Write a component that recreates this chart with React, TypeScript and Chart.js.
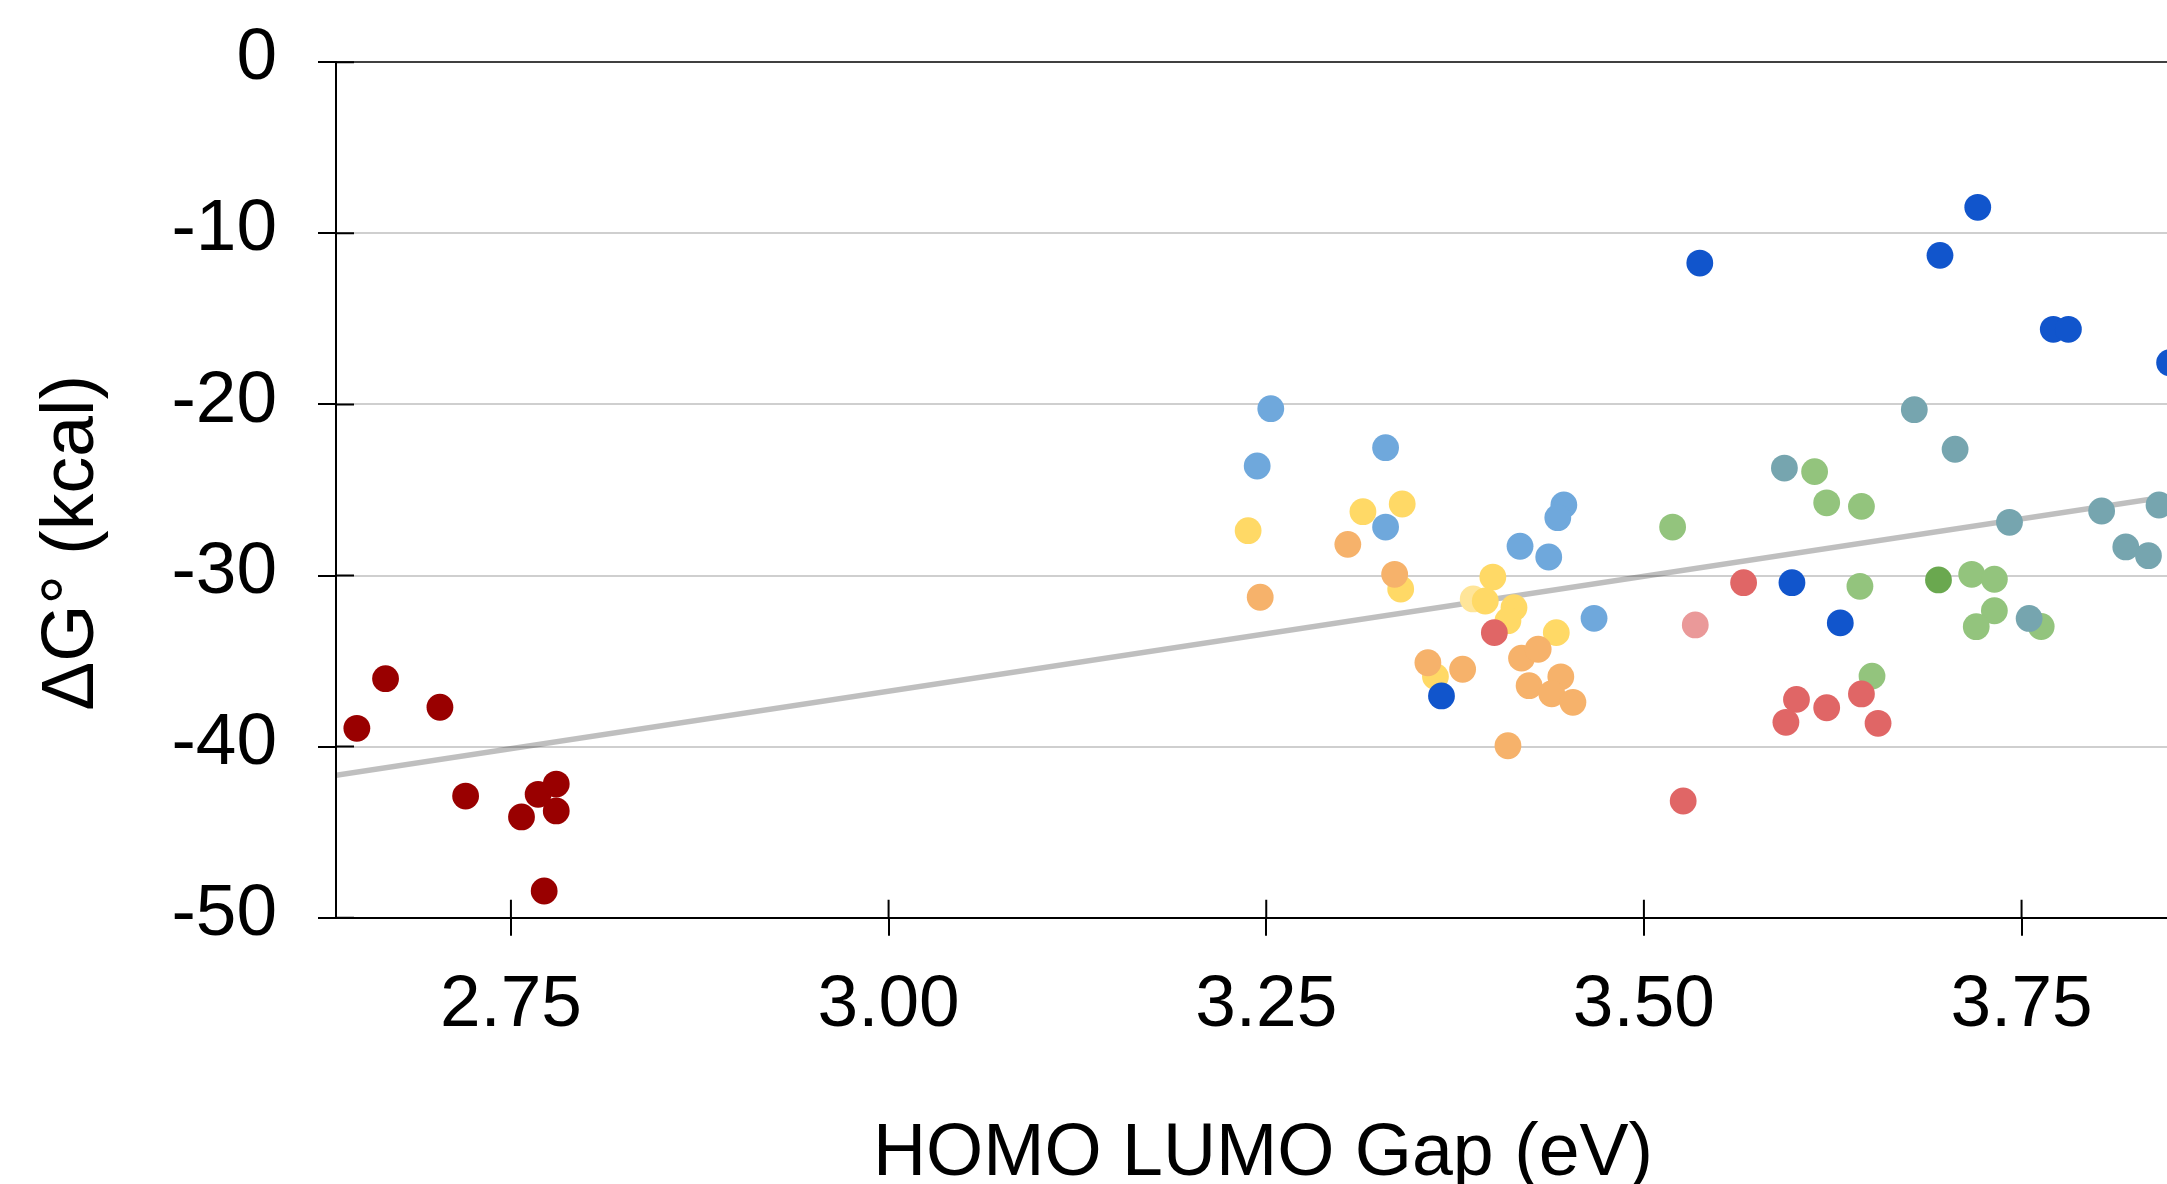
import React, { useEffect, useRef } from "react";
import { Chart, registerables } from "chart.js";

Chart.register(...registerables);

// ---------- data ----------
const xTitle = "HOMO LUMO Gap (eV)";
const yTitle = "ΔG° (kcal)";
const xTicks = [2.75, 3.0, 3.25, 3.5, 3.75];
const yTicks = [-50, -40, -30, -20, -10, 0];
const xMin = 2.6342;
const xMax = 3.8615;
const yMin = -50;
const yMax = 0;

const darkRedX = [2.648, 2.667, 2.703, 2.72, 2.757, 2.768, 2.78, 2.78, 2.772];
const darkRedY = [-38.93, -36.03, -37.7, -42.89, -44.11, -42.79, -42.19, -43.76, -48.44];

const lightBlueX = [3.253, 3.244, 3.329, 3.329, 3.447, 3.443, 3.418, 3.437, 3.467];
const lightBlueY = [-20.25, -23.6, -22.53, -27.17, -25.88, -26.62, -28.29, -28.92, -32.5];

const yellowX = [3.238, 3.314, 3.34, 3.339, 3.4, 3.395, 3.414, 3.41, 3.442, 3.362];
const yellowY = [-27.38, -26.27, -25.82, -30.79, -30.09, -31.49, -31.88, -32.64, -33.34, -35.91];

const lightYellowX = [3.387];
const lightYellowY = [-31.37];

const orangeX = [3.246, 3.304, 3.335, 3.357, 3.38, 3.419, 3.43, 3.445, 3.424, 3.439, 3.453, 3.41];
const orangeY = [-31.27, -28.18, -29.93, -35.1, -35.48, -34.83, -34.31, -35.92, -36.44, -36.91, -37.41, -39.95];

const redX = [3.401, 3.526, 3.566, 3.601, 3.594, 3.621, 3.644, 3.655];
const redY = [-33.34, -43.18, -30.42, -37.24, -38.58, -37.73, -36.92, -38.64];

const pinkX = [3.534];
const pinkY = [-32.89];

const darkBlueX = [3.366, 3.537, 3.721, 3.696, 3.771, 3.781, 3.848, 3.598, 3.63];
const darkBlueY = [-37.04, -11.74, -8.48, -11.29, -15.61, -15.61, -17.56, -30.42, -32.77];

const tealX = [3.679, 3.706, 3.593, 3.742, 3.803, 3.841, 3.819, 3.834, 3.755];
const tealY = [-20.31, -22.62, -23.72, -26.89, -26.23, -25.88, -28.33, -28.84, -32.51];

const greenX = [3.519, 3.613, 3.621, 3.644, 3.643, 3.717, 3.732, 3.732, 3.72, 3.763, 3.651];
const greenY = [-27.17, -23.93, -25.75, -25.96, -30.63, -29.93, -30.22, -32.06, -32.99, -32.98, -35.88];

const darkGreenX = [3.695];
const darkGreenY = [-30.26];

const trendX = [2.6342, 3.8615];
const trendY = [-41.68, -25.19];

// ---------- styling ----------
const FONT = '"Liberation Sans", Arial, Helvetica, sans-serif';
const FONT_SIZE = 73;
const TITLE_SIZE = 73.5;
const CANVAS_W = 2190;
const CANVAS_H = 1184;

const pts = (xs: number[], ys: number[]) => xs.map((x, i) => ({ x, y: ys[i] }));

const innerTicks = {
  id: "innerTicks",
  beforeDatasetsDraw(chart: any) {
    const { ctx, chartArea: a, scales } = chart;
    ctx.save();
    ctx.strokeStyle = "#000";
    ctx.lineWidth = 2;
    ctx.beginPath();
    yTicks.forEach((v) => {
      const py = scales.y.getPixelForValue(v);
      ctx.moveTo(a.left, py);
      ctx.lineTo(a.left + 18, py);
    });
    xTicks.forEach((v) => {
      const px = scales.x.getPixelForValue(v);
      ctx.moveTo(px, a.bottom);
      ctx.lineTo(px, a.bottom - 18);
    });
    ctx.stroke();
    ctx.restore();
  },
};

const axisTitles = {
  id: "axisTitles",
  afterDraw(chart: any) {
    const { ctx, chartArea: a } = chart;
    ctx.save();
    ctx.fillStyle = "#000";
    ctx.font = `${TITLE_SIZE}px ${FONT}`;
    ctx.textAlign = "center";
    ctx.textBaseline = "alphabetic";
    ctx.fillText(xTitle, (a.left + a.right) / 2, a.bottom + 257);
    ctx.translate(a.left - 243, (a.top + a.bottom) / 2 + 53);
    ctx.rotate(-Math.PI / 2);
    ctx.fillText(yTitle, 0, 0);
    ctx.restore();
  },
};

export default function App() {
  const ref = useRef<HTMLCanvasElement>(null);

  useEffect(() => {
    const canvas = ref.current;
    if (!canvas) return;

    const mk = (label: string, xs: number[], ys: number[], color: string) => ({
      type: "scatter" as const,
      label,
      data: pts(xs, ys),
      backgroundColor: color,
      borderColor: color,
      borderWidth: 0,
      pointRadius: 13.4,
      pointHoverRadius: 13.4,
    });

    const chart = new Chart(canvas, {
      type: "scatter",
      data: {
        datasets: [
          mk("darkBlue", darkBlueX, darkBlueY, "#1155cc"),
          mk("red", redX, redY, "#e06666"),
          mk("pink", pinkX, pinkY, "#ea9999"),
          mk("darkGreen", darkGreenX, darkGreenY, "#6aa84f"),
          mk("teal", tealX, tealY, "#76a5af"),
          mk("green", greenX, greenY, "#93c47d"),
          mk("lightBlue", lightBlueX, lightBlueY, "#6fa8dc"),
          mk("orange", orangeX, orangeY, "#f6b26b"),
          mk("yellow", yellowX, yellowY, "#ffd966"),
          mk("lightYellow", lightYellowX, lightYellowY, "#ffe599"),
          mk("darkRed", darkRedX, darkRedY, "#990000"),
          {
            type: "line" as const,
            label: "trend",
            data: pts(trendX, trendY),
            borderColor: "rgba(0,0,0,0.25)",
            borderWidth: 5.5,
            pointRadius: 0,
            fill: false,
            showLine: true,
          } as any,
        ],
      },
      options: {
        responsive: false,
        animation: false,
        devicePixelRatio: 1,
        layout: { autoPadding: false, padding: { top: 62.2, left: 0, right: 0, bottom: 0 } },
        plugins: {
          legend: { display: false },
          tooltip: { enabled: false },
          title: { display: false },
        },
        events: [],
        scales: {
          x: {
            type: "linear",
            min: xMin,
            max: xMax,
            afterBuildTicks: (s: any) => {
              s.ticks = xTicks.map((v) => ({ value: v }));
            },
            afterFit: (s: any) => {
              s.height = CANVAS_H - 917.7;
              s.paddingLeft = 0;
              s.paddingRight = 0;
              s.paddingTop = 0;
              s.paddingBottom = 0;
            },
            grid: {
              drawOnChartArea: false,
              drawTicks: true,
              tickLength: 18,
              tickColor: "#000",
              tickWidth: 2,
              color: "#000",
              lineWidth: 2,
            },
            border: { display: true, color: "#000", width: 2 },
            ticks: {
              color: "#000",
              font: { family: FONT, size: FONT_SIZE },
              padding: 26,
              maxRotation: 0,
              autoSkip: false,
              callback: (v: any) => Number(v).toFixed(2),
            },
          },
          y: {
            type: "linear",
            min: yMin,
            max: yMax,
            afterBuildTicks: (s: any) => {
              s.ticks = yTicks.map((v) => ({ value: v }));
            },
            afterFit: (s: any) => {
              s.width = 336;
              s.paddingLeft = 0;
              s.paddingRight = 0;
              s.paddingTop = 0;
              s.paddingBottom = 0;
            },
            grid: {
              drawOnChartArea: true,
              drawTicks: true,
              tickLength: 18,
              tickColor: "#000",
              tickWidth: 2,
              lineWidth: 2,
              color: (c: any) =>
                c.tick && c.tick.value === 0
                  ? "#404040"
                  : c.tick && c.tick.value === -50
                  ? "rgba(0,0,0,0)"
                  : "#cfcfcf",
            },
            border: { display: true, color: "#000", width: 2 },
            ticks: {
              color: "#000",
              font: { family: FONT, size: FONT_SIZE },
              padding: 41,
              labelOffset: -3,
              callback: (v: any) => String(v),
            },
          },
        },
      } as any,
      plugins: [innerTicks, axisTitles],
    });

    return () => chart.destroy();
  }, []);

  return (
    <div
      style={{
        position: "fixed",
        left: 0,
        top: 0,
        width: 2167,
        height: 1184,
        overflow: "hidden",
        background: "#fff",
      }}
    >
      <canvas ref={ref} width={CANVAS_W} height={CANVAS_H} style={{ display: "block" }} />
    </div>
  );
}
